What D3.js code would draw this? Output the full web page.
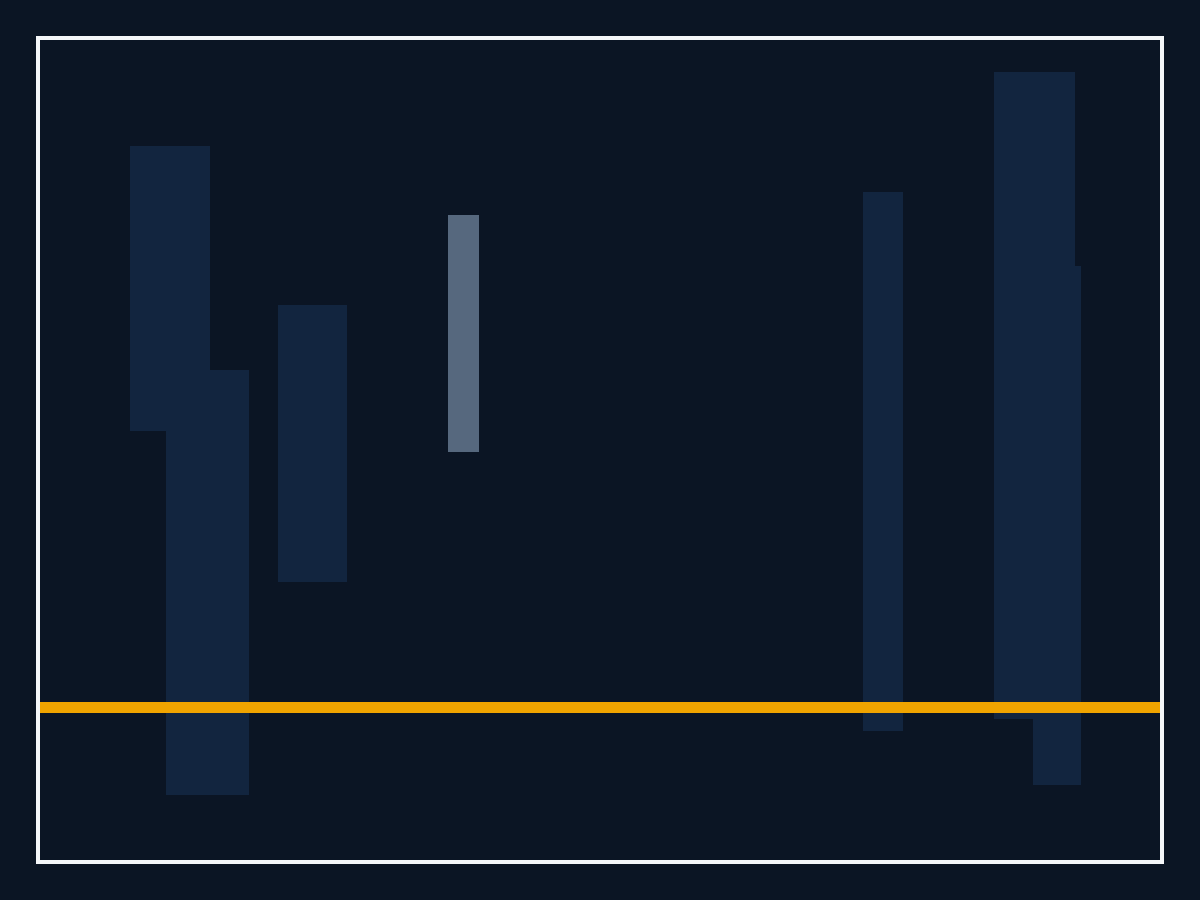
<!DOCTYPE html>
<html>
<head>
<meta charset="utf-8">
<script src="https://cdn.jsdelivr.net/npm/d3@7"></script>
<style>
  html, body { margin: 0; padding: 0; background: #0b1524; }
</style>
</head>
<body>
<div id="chart"></div>
<script>
// data : floating bars (start, end, low, high) and a reference level
var barStart = [8.04, 11.25, 21.25, 36.43, 73.48, 85.18, 88.66];
var barEnd   = [15.18, 18.66, 27.41, 39.20, 77.05, 92.41, 92.95];
var barHigh  = [87.07, 59.76, 67.68, 78.66, 81.46, 96.10, 72.44];
var barLow   = [52.32, 7.93, 33.90, 49.76, 15.73, 17.20, 9.15];
var barHighlight = [false, false, false, true, false, false, false];
var refLevel = 18.60;

var bars = barStart.map(function(d, i) {
  return {x0: d, x1: barEnd[i], hi: barHigh[i], lo: barLow[i], hl: barHighlight[i]};
});

// setting up
var width = 1200, height = 900;
var plot = {left: 40, right: 1160, top: 40, bottom: 860};

var svg = d3.select("#chart").append("svg")
    .attr("width", width)
    .attr("height", height);

svg.append("rect")
    .attr("width", width)
    .attr("height", height)
    .attr("fill", "#0b1524");

var xScale = d3.scaleLinear()
    .domain([0, 100])
    .range([plot.left, plot.right]);

var yScale = d3.scaleLinear()
    .domain([0, 100])
    .range([plot.bottom, plot.top]);

// bars
svg.append("g").selectAll("rect")
    .data(bars)
    .join("rect")
    .attr("x", d => xScale(d.x0))
    .attr("y", d => yScale(d.hi))
    .attr("width", d => xScale(d.x1) - xScale(d.x0))
    .attr("height", d => yScale(d.lo) - yScale(d.hi))
    .attr("fill", d => d.hl ? "#56687e" : "#12253f")
    .attr("shape-rendering", "crispEdges");

// reference line
svg.append("line")
    .attr("x1", xScale(0))
    .attr("x2", xScale(100))
    .attr("y1", yScale(refLevel))
    .attr("y2", yScale(refLevel))
    .attr("stroke", "#f0a400")
    .attr("stroke-width", 11);

// frame
svg.append("rect")
    .attr("x", plot.left - 2)
    .attr("y", plot.top - 2)
    .attr("width", plot.right - plot.left + 4)
    .attr("height", plot.bottom - plot.top + 4)
    .attr("fill", "none")
    .attr("stroke", "#f5f7fa")
    .attr("stroke-width", 4);
</script>
</body>
</html>
